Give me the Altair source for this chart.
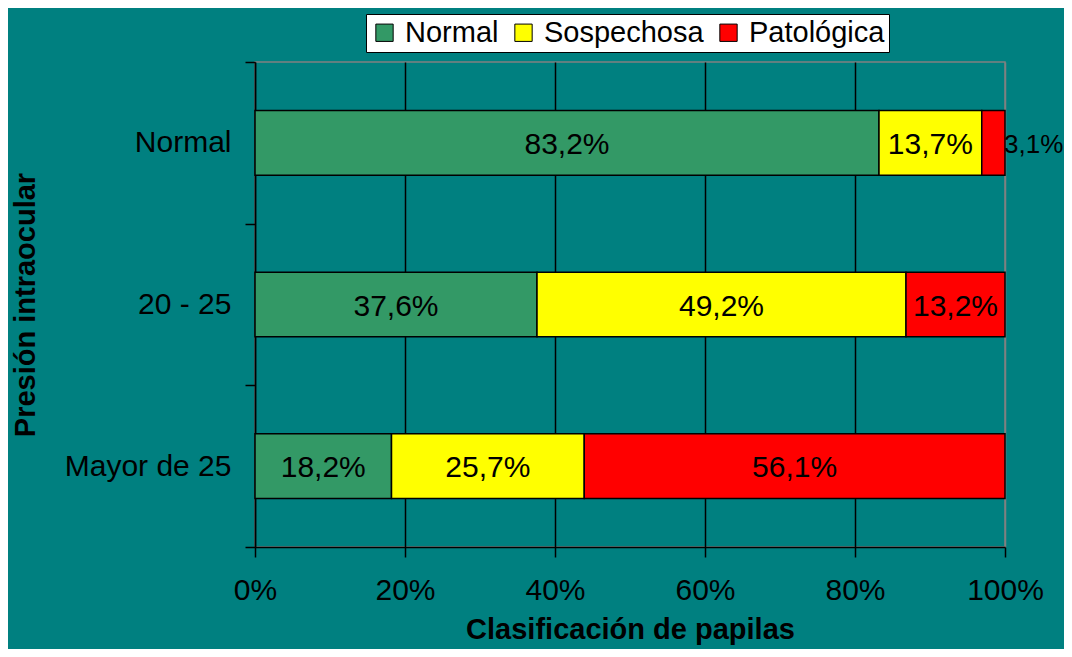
import altair as alt
import pandas as pd

categories = ["Normal", "20 - 25", "Mayor de 25"]
series = ["Normal", "Sospechosa", "Patológica"]
normal_vals = [83.2, 37.6, 18.2]
sospechosa_vals = [13.7, 49.2, 25.7]
patologica_vals = [3.1, 13.2, 56.1]
colors = ["#339966", "#FFFF00", "#FF0000"]
x_ticks = [0, 20, 40, 60, 80, 100]

rows = []
for i, c in enumerate(categories):
    for k, (s, vals) in enumerate(zip(series, [normal_vals, sospechosa_vals, patologica_vals])):
        rows.append({"cat": c, "serie": s, "value": vals[i], "order": k})
df = pd.DataFrame(rows)

FONT = "Liberation Sans"

base = alt.Chart(df).transform_stack(
    stack="value", as_=["start", "end"], groupby=["cat"], sort=[alt.SortField("order")]
).transform_calculate(
    mid="(datum.start + datum.end) / 2",
    label="replace(format(datum.value, '.1f'), '.', ',') + '%'",
)

y_enc = alt.Y(
    "cat:N",
    sort=categories,
    scale=alt.Scale(paddingInner=0, paddingOuter=0),
    axis=alt.Axis(
        title="Presión intraocular",
        tickBand="extent",
        tickSize=10,
        labelPadding=14,
        labelFontSize=30,
        titleFontSize=29,
        titleFontWeight="bold",
        titlePadding=24,
        grid=False,
    ),
)

bars = base.mark_bar(stroke="black", strokeWidth=1.5, height=alt.RelativeBandSize(0.4)).encode(
    x=alt.X(
        "start:Q",
        scale=alt.Scale(domain=[0, 100], nice=False),
        axis=alt.Axis(
            values=x_ticks,
            labelExpr="datum.value + '%'",
            labelFlush=False,
            title="Clasificación de papilas",
            tickSize=10,
            labelPadding=18,
            labelFontSize=30,
            titleFontSize=29,
            titleFontWeight="bold",
            titlePadding=10,
            grid=True,
            gridColor={"condition": {"test": "datum.value >= 100", "value": "#808080"}, "value": "black"},
        ),
    ),
    x2="end:Q",
    y=y_enc,
    color=alt.Color(
        "serie:N",
        scale=alt.Scale(domain=series, range=colors),
        legend=alt.Legend(
            title=None,
            orient="none",
            legendX=111,
            legendY=-48,
            direction="horizontal",
            fillColor="white",
            strokeColor="black",
            padding=4,
            labelFontSize=29,
            symbolType="square",
            symbolSize=300,
            symbolStrokeColor="black",
            symbolStrokeWidth=1,
            symbolOpacity=1,
            labelOffset=6,
            columnPadding=10,
        ),
    ),
)

text_in = base.transform_filter("datum.value >= 5").mark_text(
    fontSize=30, color="black", align="center", baseline="middle", font=FONT, dy=2
).encode(x="mid:Q", y=alt.Y("cat:N", sort=categories), text="label:N")

text_out = base.transform_filter("datum.value < 5").mark_text(
    fontSize=26, color="black", align="left", baseline="middle", dx=-1, dy=2, font=FONT
).encode(x="end:Q", y=alt.Y("cat:N", sort=categories), text="label:N")

chart = alt.layer(bars, text_in, text_out).properties(
    width=750,
    height=485,
    background="#008080",
    padding={"left": 247, "top": 54, "right": 59, "bottom": 102},
    autosize=alt.AutoSizeParams(type="none"),
).configure(font=FONT).configure_view(
    stroke="#808080", strokeWidth=1.5
).configure_axis(
    domainColor="black", domainWidth=1.5, tickColor="black", tickWidth=1.5,
    labelColor="black", titleColor="black", labelFont=FONT, titleFont=FONT,
    gridWidth=1.5, gridOpacity=1,
).configure_legend(
    labelFont=FONT, labelColor="black"
)

chart.save("out.html", embed_options={"renderer": "svg", "actions": False})
